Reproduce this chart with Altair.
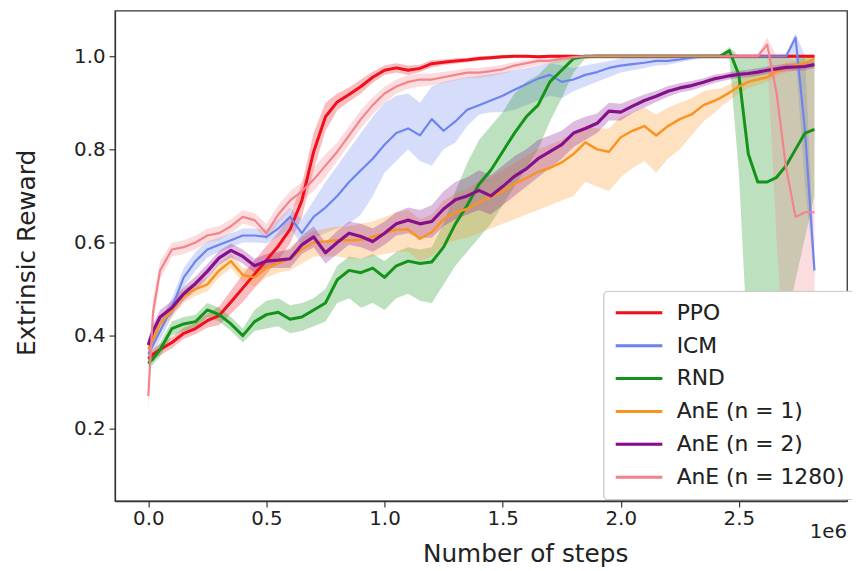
import altair as alt
import pandas as pd

# x positions (in units of 1e6 steps)
X = [0.00, 0.02, 0.05, 0.10, 0.15, 0.20, 0.25, 0.30, 0.35, 0.40,
     0.45, 0.50, 0.55, 0.60, 0.65, 0.70, 0.75, 0.80, 0.85, 0.90,
     0.95, 1.00, 1.05, 1.10, 1.15, 1.20, 1.25, 1.30, 1.35, 1.40,
     1.45, 1.50, 1.55, 1.60, 1.65, 1.70, 1.75, 1.80, 1.85, 1.90,
     1.95, 2.00, 2.05, 2.10, 2.15, 2.20, 2.25, 2.30, 2.35, 2.40,
     2.42, 2.46, 2.50, 2.54, 2.58, 2.62, 2.66, 2.70, 2.74, 2.78, 2.82]

SERIES = ["PPO", "ICM", "RND", "AnE (n = 1)", "AnE (n = 2)", "AnE (n = 1280)"]
COLORS = ["#f0101c", "#6d84ee", "#139419", "#fa9420", "#860f8c", "#f3848c"]
WIDTHS = [3.0, 2.2, 3.0, 2.5, 3.2, 2.2]

PPO_MEAN = [0.350, 0.360, 0.370, 0.385, 0.405, 0.415, 0.432, 0.443, 0.472, 0.502,
            0.532, 0.562, 0.592, 0.628, 0.690, 0.795, 0.870, 0.902, 0.918, 0.935,
            0.955, 0.970, 0.975, 0.970, 0.974, 0.984, 0.987, 0.990, 0.992, 0.995,
            0.997, 0.999, 1.000, 1.000, 0.999, 1.000, 1.000, 1.000, 0.999, 1.000,
            1.000, 1.000, 1.000, 1.000, 1.000, 1.000, 1.000, 1.000, 1.000, 1.000,
            1.000, 1.000, 1.000, 1.000, 1.000, 1.000, 1.000, 1.000, 1.000, 1.000, 1.000]
PPO_LO = [0.338, 0.348, 0.358, 0.373, 0.393, 0.403, 0.417, 0.423, 0.447, 0.472,
          0.502, 0.532, 0.562, 0.598, 0.655, 0.755, 0.840, 0.884, 0.903, 0.920,
          0.943, 0.960, 0.965, 0.960, 0.966, 0.976, 0.981, 0.984, 0.987, 0.990,
          0.993, 0.995, 0.997, 0.997, 0.996, 0.997, 0.997, 0.997, 0.996, 0.997,
          0.997, 0.997, 0.997, 0.997, 0.997, 0.997, 0.997, 0.997, 0.997, 0.997,
          0.997, 0.997, 0.997, 0.997, 0.997, 0.997, 0.997, 0.997, 0.997, 0.997, 0.997]
PPO_HI = [0.362, 0.372, 0.382, 0.397, 0.417, 0.427, 0.447, 0.463, 0.497, 0.532,
          0.562, 0.592, 0.622, 0.658, 0.725, 0.835, 0.900, 0.920, 0.933, 0.950,
          0.967, 0.980, 0.985, 0.980, 0.982, 0.992, 0.993, 0.996, 0.997, 1.000,
          1.001, 1.003, 1.003, 1.003, 1.002, 1.003, 1.003, 1.003, 1.002, 1.003,
          1.003, 1.003, 1.003, 1.003, 1.003, 1.003, 1.003, 1.003, 1.003, 1.003,
          1.003, 1.003, 1.003, 1.003, 1.003, 1.003, 1.003, 1.003, 1.003, 1.003, 1.003]

ICM_MEAN = [0.36, 0.38, 0.41, 0.46, 0.525, 0.56, 0.585, 0.595, 0.605, 0.615,
            0.615, 0.612, 0.63, 0.655, 0.62, 0.655, 0.675, 0.70, 0.73, 0.755,
            0.78, 0.81, 0.835, 0.845, 0.83, 0.865, 0.84, 0.86, 0.885, 0.895,
            0.905, 0.915, 0.928, 0.94, 0.952, 0.96, 0.945, 0.95, 0.96, 0.966,
            0.975, 0.98, 0.983, 0.986, 0.99, 0.99, 0.993, 0.997, 1.0, 1.0,
            1.0, 1.0, 1.0, 1.0, 1.0, 1.0, 1.0, 1.0, 1.04, 0.84, 0.54]
ICM_LO = [0.34, 0.36, 0.39, 0.44, 0.505, 0.54, 0.568, 0.58, 0.59, 0.60,
          0.60, 0.598, 0.612, 0.63, 0.595, 0.61, 0.62, 0.63, 0.64, 0.66,
          0.70, 0.75, 0.775, 0.80, 0.775, 0.765, 0.80, 0.815, 0.85, 0.875,
          0.88, 0.88, 0.885, 0.895, 0.905, 0.915, 0.91, 0.925, 0.935, 0.945,
          0.955, 0.965, 0.97, 0.975, 0.98, 0.982, 0.987, 0.992, 0.995, 0.995,
          0.995, 0.995, 0.995, 0.995, 0.995, 0.995, 0.995, 0.995, 1.0, 0.72, 0.52]
ICM_HI = [0.38, 0.40, 0.43, 0.48, 0.545, 0.58, 0.602, 0.61, 0.62, 0.63,
          0.63, 0.628, 0.65, 0.675, 0.65, 0.69, 0.73, 0.765, 0.80, 0.835,
          0.87, 0.90, 0.915, 0.92, 0.90, 0.935, 0.945, 0.95, 0.955, 0.958,
          0.962, 0.965, 0.97, 0.975, 0.98, 0.985, 0.98, 0.975, 0.98, 0.985,
          0.99, 0.995, 0.998, 1.0, 1.0, 1.0, 1.0, 1.002, 1.003, 1.003,
          1.003, 1.003, 1.003, 1.003, 1.003, 1.003, 1.003, 1.005, 1.05, 1.0, 0.56]

RND_MEAN = [0.34, 0.35, 0.37, 0.415, 0.425, 0.43, 0.455, 0.445, 0.425, 0.40,
            0.43, 0.445, 0.45, 0.435, 0.44, 0.455, 0.47, 0.52, 0.54, 0.535,
            0.545, 0.525, 0.55, 0.56, 0.555, 0.558, 0.59, 0.64, 0.68, 0.725,
            0.755, 0.795, 0.835, 0.87, 0.895, 0.945, 0.97, 0.995, 1.0, 1.0,
            1.0, 1.0, 1.0, 1.0, 1.0, 1.0, 1.0, 1.0, 1.0, 1.0,
            1.0, 1.012, 0.96, 0.79, 0.73, 0.73, 0.74, 0.765, 0.80, 0.835, 0.843]
RND_LO = [0.33, 0.338, 0.355, 0.40, 0.41, 0.415, 0.44, 0.43, 0.41, 0.385,
          0.41, 0.415, 0.42, 0.405, 0.41, 0.42, 0.43, 0.47, 0.48, 0.46,
          0.47, 0.455, 0.48, 0.49, 0.475, 0.47, 0.51, 0.55, 0.58, 0.61,
          0.64, 0.68, 0.72, 0.76, 0.80, 0.86, 0.91, 0.965, 0.995, 0.995,
          0.995, 0.995, 0.995, 0.995, 0.995, 0.995, 0.995, 0.995, 0.995, 0.995,
          0.995, 0.995, 0.75, 0.35, 0.2, 0.22, 0.3, 0.42, 0.52, 0.61, 0.70]
RND_HI = [0.35, 0.362, 0.385, 0.43, 0.44, 0.445, 0.47, 0.46, 0.44, 0.415,
          0.455, 0.475, 0.48, 0.465, 0.47, 0.48, 0.50, 0.55, 0.57, 0.565,
          0.575, 0.56, 0.58, 0.59, 0.585, 0.59, 0.64, 0.71, 0.77, 0.82,
          0.85, 0.88, 0.92, 0.945, 0.96, 0.985, 0.995, 1.0, 1.004, 1.004,
          1.004, 1.004, 1.004, 1.004, 1.004, 1.004, 1.004, 1.004, 1.004, 1.004,
          1.004, 1.02, 1.0, 1.0, 1.0, 1.0, 1.0, 1.0, 1.0, 1.0, 1.0]

ANE1_MEAN = [0.37, 0.39, 0.425, 0.455, 0.485, 0.50, 0.51, 0.54, 0.56, 0.53,
             0.525, 0.545, 0.555, 0.565, 0.585, 0.60, 0.602, 0.605, 0.605, 0.606,
             0.612, 0.62, 0.628, 0.628, 0.608, 0.622, 0.65, 0.665, 0.672, 0.686,
             0.698, 0.71, 0.726, 0.738, 0.752, 0.76, 0.772, 0.79, 0.815, 0.80,
             0.795, 0.826, 0.84, 0.85, 0.83, 0.85, 0.865, 0.875, 0.895, 0.905,
             0.91, 0.922, 0.935, 0.945, 0.95, 0.955, 0.968, 0.975, 0.98, 0.986, 0.994]
ANE1_LO = [0.355, 0.375, 0.41, 0.44, 0.47, 0.485, 0.495, 0.525, 0.545, 0.515,
           0.505, 0.525, 0.535, 0.54, 0.555, 0.57, 0.57, 0.57, 0.565, 0.565,
           0.57, 0.575, 0.58, 0.58, 0.56, 0.57, 0.595, 0.605, 0.61, 0.62,
           0.63, 0.64, 0.65, 0.66, 0.67, 0.68, 0.69, 0.70, 0.73, 0.72,
           0.71, 0.74, 0.76, 0.775, 0.75, 0.78, 0.80, 0.83, 0.86, 0.88,
           0.89, 0.905, 0.92, 0.932, 0.938, 0.945, 0.957, 0.965, 0.97, 0.976, 0.985]
ANE1_HI = [0.385, 0.405, 0.44, 0.47, 0.50, 0.515, 0.525, 0.555, 0.575, 0.545,
           0.545, 0.565, 0.575, 0.59, 0.61, 0.625, 0.63, 0.635, 0.635, 0.64,
           0.645, 0.655, 0.665, 0.67, 0.65, 0.66, 0.69, 0.705, 0.715, 0.73,
           0.74, 0.755, 0.77, 0.785, 0.80, 0.81, 0.82, 0.835, 0.85, 0.845,
           0.845, 0.87, 0.88, 0.89, 0.875, 0.89, 0.90, 0.91, 0.925, 0.93,
           0.93, 0.94, 0.95, 0.958, 0.963, 0.967, 0.978, 0.986, 0.99, 0.996, 1.003]

ANE2_MEAN = [0.38, 0.41, 0.44, 0.46, 0.49, 0.512, 0.538, 0.567, 0.583, 0.57,
             0.55, 0.56, 0.562, 0.565, 0.595, 0.612, 0.578, 0.60, 0.62, 0.613,
             0.602, 0.62, 0.64, 0.648, 0.64, 0.645, 0.672, 0.692, 0.70, 0.712,
             0.70, 0.72, 0.742, 0.758, 0.78, 0.795, 0.81, 0.835, 0.845, 0.856,
             0.882, 0.88, 0.893, 0.905, 0.914, 0.925, 0.932, 0.937, 0.944, 0.952,
             0.954, 0.958, 0.961, 0.963, 0.966, 0.97, 0.973, 0.976, 0.977, 0.978, 0.982]
ANE2_LO = [0.365, 0.395, 0.425, 0.445, 0.475, 0.497, 0.523, 0.552, 0.568, 0.555,
           0.535, 0.545, 0.545, 0.545, 0.575, 0.59, 0.555, 0.575, 0.595, 0.59,
           0.58, 0.595, 0.615, 0.62, 0.61, 0.61, 0.635, 0.65, 0.66, 0.67,
           0.66, 0.68, 0.70, 0.72, 0.74, 0.76, 0.78, 0.805, 0.82, 0.835,
           0.862, 0.862, 0.878, 0.89, 0.902, 0.913, 0.922, 0.927, 0.935, 0.943,
           0.946, 0.95, 0.953, 0.955, 0.958, 0.962, 0.965, 0.968, 0.969, 0.97, 0.974]
ANE2_HI = [0.395, 0.425, 0.455, 0.475, 0.505, 0.527, 0.553, 0.582, 0.598, 0.585,
           0.565, 0.575, 0.58, 0.585, 0.615, 0.635, 0.60, 0.625, 0.645, 0.64,
           0.63, 0.645, 0.665, 0.675, 0.67, 0.68, 0.71, 0.73, 0.74, 0.755,
           0.745, 0.765, 0.785, 0.80, 0.82, 0.83, 0.84, 0.86, 0.87, 0.877,
           0.90, 0.898, 0.908, 0.918, 0.926, 0.936, 0.942, 0.947, 0.953, 0.961,
           0.962, 0.966, 0.969, 0.971, 0.974, 0.978, 0.981, 0.984, 0.985, 0.986, 0.99]

ANE1280_MEAN = [0.27, 0.45, 0.54, 0.585, 0.59, 0.60, 0.615, 0.62, 0.635, 0.655,
                0.648, 0.62, 0.66, 0.69, 0.71, 0.735, 0.765, 0.795, 0.83, 0.865,
                0.895, 0.92, 0.935, 0.945, 0.95, 0.95, 0.955, 0.96, 0.965, 0.965,
                0.968, 0.972, 0.98, 0.985, 0.99, 0.99, 0.995, 0.998, 1.0, 1.0,
                1.0, 1.0, 1.0, 1.0, 1.0, 1.0, 1.0, 1.0, 1.0, 1.0,
                1.0, 1.0, 1.0, 1.0, 1.0, 1.025, 0.92, 0.76, 0.655, 0.665, 0.665]
ANE1280_LO = [0.24, 0.42, 0.52, 0.57, 0.575, 0.585, 0.60, 0.605, 0.62, 0.64,
              0.633, 0.605, 0.64, 0.67, 0.69, 0.71, 0.74, 0.775, 0.81, 0.845,
              0.875, 0.90, 0.92, 0.93, 0.935, 0.937, 0.943, 0.948, 0.953, 0.953,
              0.957, 0.962, 0.97, 0.976, 0.982, 0.983, 0.988, 0.992, 0.995, 0.995,
              0.995, 0.995, 0.995, 0.995, 0.995, 0.995, 0.995, 0.995, 0.995, 0.995,
              0.995, 0.995, 0.995, 0.995, 0.995, 1.0, 0.6, 0.3, 0.2, 0.2, 0.2]
ANE1280_HI = [0.30, 0.48, 0.56, 0.60, 0.605, 0.615, 0.63, 0.635, 0.65, 0.67,
              0.663, 0.64, 0.68, 0.71, 0.73, 0.76, 0.79, 0.815, 0.85, 0.885,
              0.912, 0.935, 0.95, 0.96, 0.963, 0.963, 0.967, 0.97, 0.975, 0.975,
              0.978, 0.982, 0.988, 0.992, 0.996, 0.997, 1.0, 1.002, 1.004, 1.004,
              1.004, 1.004, 1.004, 1.004, 1.004, 1.004, 1.004, 1.004, 1.004, 1.004,
              1.004, 1.004, 1.004, 1.004, 1.004, 1.04, 1.0, 1.0, 0.99, 0.98, 0.98]

X_TICKS = [0.0, 0.5, 1.0, 1.5, 2.0, 2.5]
Y_TICKS = [0.2, 0.4, 0.6, 0.8, 1.0]

TABLE = [
    (PPO_MEAN, PPO_LO, PPO_HI),
    (ICM_MEAN, ICM_LO, ICM_HI),
    (RND_MEAN, RND_LO, RND_HI),
    (ANE1_MEAN, ANE1_LO, ANE1_HI),
    (ANE2_MEAN, ANE2_LO, ANE2_HI),
    (ANE1280_MEAN, ANE1280_LO, ANE1280_HI),
]

rows = []
for name, (m, lo, hi) in zip(SERIES, TABLE):
    for xv, a, b, c in zip(X, m, lo, hi):
        rows.append({"series": name, "band": name, "x": xv, "y": a, "lo": b, "hi": c})
df = pd.DataFrame(rows)

FONT = "DejaVu Sans"

x_enc = alt.X(
    "x:Q",
    scale=alt.Scale(domain=[-0.141, 2.958], nice=False, zero=False),
    axis=alt.Axis(
        values=X_TICKS, format=".1f", title="Number of steps", labelPadding=2,
        titleX=414, titleY=53, titleBaseline="middle", titleAlign="center",
    ),
)
y_scale = alt.Scale(domain=[0.0447, 1.098], nice=False, zero=False)
y_axis = alt.Axis(
    values=Y_TICKS, format=".1f", title="Extrinsic Reward", labelPadding=4,
    titleX=-89, titleY=244, titleAngle=270,
    titleBaseline="middle", titleAlign="center",
)

legend = alt.Legend(
    title=None, orient="none", legendX=493, legendY=283,
    symbolType="M-2.5,0H2.5", symbolSize=353, symbolStrokeWidth=3,
    symbolOffset=14, labelOffset=27,
    labelFontSize=22, labelFont=FONT, labelColor="#222222",
    rowPadding=11.2, padding=11,
    fillColor="rgba(255,255,255,0.8)", strokeColor="#cccccc",
    cornerRadius=4, labelLimit=300,
)
stroke_enc = alt.Stroke(
    "series:N", scale=alt.Scale(domain=SERIES, range=COLORS), legend=legend
)

bands = alt.Chart(df).mark_area(opacity=0.28, clip=True).encode(
    x=x_enc,
    y=alt.Y("lo:Q", scale=y_scale, axis=y_axis),
    y2="hi:Q",
    fill=alt.Fill("band:N", scale=alt.Scale(domain=SERIES, range=COLORS), legend=None),
    detail="band:N",
)

line_layers = []
for name, w in zip(SERIES, WIDTHS):
    line_layers.append(
        alt.Chart(df)
        .transform_filter(alt.datum.series == name)
        .mark_line(clip=True, strokeJoin="round", strokeWidth=w)
        .encode(
            x=x_enc,
            y=alt.Y("y:Q", scale=y_scale, axis=y_axis),
            stroke=stroke_enc,
        )
    )

offset_text = alt.Chart(pd.DataFrame({"t": ["1e6"]})).mark_text(
    align="right", baseline="middle", fontSize=20, font=FONT, color="#222222"
).encode(text="t:N", x=alt.value(739), y=alt.value(526))

chart = alt.layer(bands, *line_layers, offset_text).resolve_scale(
    fill="independent", stroke="independent"
).properties(
    width=739, height=495,
    autosize=alt.AutoSizeParams(type="none"),
    padding={"left": 108, "top": 0, "right": 5, "bottom": 68},
).configure_view(
    stroke="#333333", strokeWidth=1.3
).configure_axis(
    grid=False, domainColor="#333333", domainWidth=1.3,
    tickColor="#333333", tickSize=6, tickWidth=1.2,
    labelFont=FONT, labelFontSize=20, labelColor="#222222",
    titleFont=FONT, titleFontSize=25, titleColor="#222222", titleFontWeight="normal",
)

chart.save("out.html", embed_options={"renderer": "svg", "actions": False})
